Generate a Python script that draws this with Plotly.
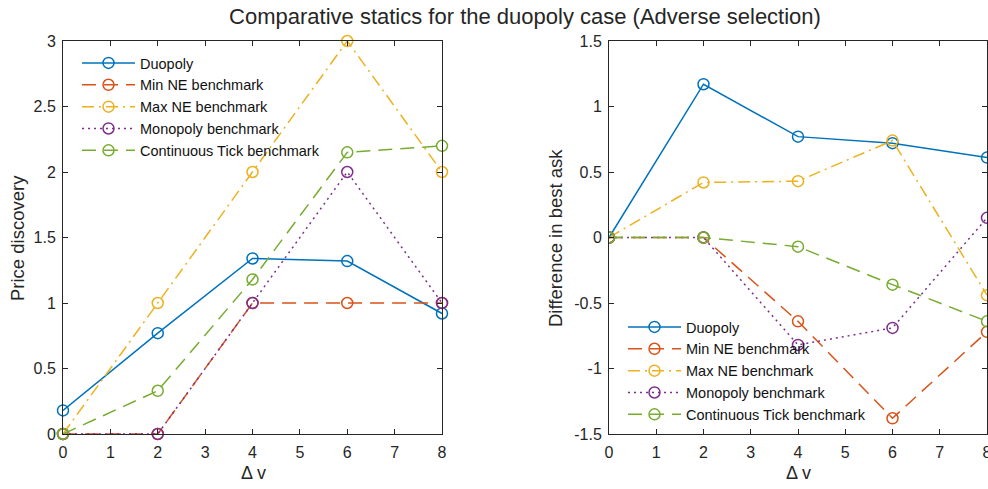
import plotly.graph_objects as go

dv = [0, 2, 4, 6, 8]
names = ["Duopoly", "Min NE benchmark", "Max NE benchmark", "Monopoly benchmark", "Continuous Tick benchmark"]

# Left panel: Price discovery
pd_duopoly = [0.18, 0.77, 1.34, 1.32, 0.92]
pd_min_ne = [0, 0, 1, 1, 1]
pd_max_ne = [0, 1, 2, 3, 2]
pd_monopoly = [0, 0, 1, 2, 1]
pd_cont_tick = [0, 0.33, 1.18, 2.15, 2.2]

# Right panel: Difference in best ask
da_duopoly = [0, 1.17, 0.77, 0.72, 0.61]
da_min_ne = [0, 0, -0.64, -1.38, -0.72]
da_max_ne = [0, 0.42, 0.43, 0.74, -0.44]
da_monopoly = [0, 0, -0.82, -0.69, 0.15]
da_cont_tick = [0, 0, -0.07, -0.36, -0.64]

x_ticks = list(range(0, 9))
left_yticks = [0, 0.5, 1, 1.5, 2, 2.5, 3]
right_yticks = [-1.5, -1, -0.5, 0, 0.5, 1, 1.5]

colors = ["#0072BD", "#D95319", "#EDB120", "#7E2F8E", "#77AC30"]
dashes = ["solid", "14px,8px", "12px,5px,2px,5px", "2px,4px", "14px,8px"]

FONT = "Liberation Sans, Arial, Helvetica, sans-serif"
TXT = "#262626"
fig = go.Figure()

left = [pd_duopoly, pd_min_ne, pd_max_ne, pd_monopoly, pd_cont_tick]
right = [da_duopoly, da_min_ne, da_max_ne, da_monopoly, da_cont_tick]
for i in range(5):
    fig.add_trace(go.Scatter(
        x=dv, y=left[i], name=names[i], mode="lines+markers",
        line=dict(color=colors[i], width=1.5, dash=dashes[i]),
        marker=dict(symbol="circle-open", size=11, color=colors[i], line=dict(width=1.5)),
        xaxis="x", yaxis="y", legend="legend", cliponaxis=False))
for i in range(5):
    fig.add_trace(go.Scatter(
        x=dv, y=right[i], name=names[i], mode="lines+markers",
        line=dict(color=colors[i], width=1.5, dash=dashes[i]),
        marker=dict(symbol="circle-open", size=11, color=colors[i], line=dict(width=1.5)),
        xaxis="x2", yaxis="y2", legend="legend2", cliponaxis=True))

W, H = 988, 489
ax_common = dict(showline=True, linecolor=TXT, linewidth=1, mirror="ticks",
                 ticks="inside", ticklen=5, tickcolor=TXT, tickwidth=1,
                 showgrid=False, zeroline=False, automargin=False,
                 tickfont=dict(family=FONT, size=16, color=TXT))
ydom = [1 - 434 / H, 1 - 41 / H]

fig.update_layout(
    width=W, height=H,
    margin=dict(l=0, r=0, t=0, b=0, autoexpand=False),
    paper_bgcolor="white", plot_bgcolor="white",
    font=dict(family=FONT, color=TXT),
    title=dict(text="Comparative statics for the duopoly case (Adverse selection)",
               x=525 / W, xanchor="center", y=1 - 16 / H, yanchor="middle",
               font=dict(family=FONT, size=22, color=TXT)),
    xaxis=dict(domain=[63 / W, 442 / W], range=[0, 8], tickvals=x_ticks, anchor="y",
               ticklabelstandoff=4, **ax_common),
    yaxis=dict(domain=ydom, range=[0, 3], tickvals=left_yticks,
               ticktext=[f"{v:g}" for v in left_yticks], anchor="x", ticklabelstandoff=3, **ax_common),
    xaxis2=dict(domain=[609 / W, 987 / W], range=[0, 8], tickvals=x_ticks, anchor="y2",
                ticklabelstandoff=4, ticklabeloverflow="allow", **ax_common),
    yaxis2=dict(domain=ydom, range=[-1.5, 1.5], tickvals=right_yticks,
                ticktext=[f"{v:g}" for v in right_yticks], anchor="x2", ticklabelstandoff=3, **ax_common),
    legend=dict(x=77 / W, y=1 - 47 / H, xanchor="left", yanchor="top",
                bgcolor="rgba(0,0,0,0)", borderwidth=0, itemwidth=53,
                font=dict(family=FONT, size=14.5, color="#111111"), tracegroupgap=0),
    legend2=dict(x=623 / W, y=1 - 311 / H, xanchor="left", yanchor="top",
                 bgcolor="rgba(0,0,0,0)", borderwidth=0, itemwidth=53,
                 font=dict(family=FONT, size=14.5, color="#111111"), tracegroupgap=0),
    annotations=[
        dict(text="Δ v", x=253 / W, y=1 - 473 / H, xref="paper", yref="paper",
             showarrow=False, font=dict(family=FONT, size=18, color=TXT), xanchor="center", yanchor="middle"),
        dict(text="Δ v", x=798 / W, y=1 - 473 / H, xref="paper", yref="paper",
             showarrow=False, font=dict(family=FONT, size=18, color=TXT), xanchor="center", yanchor="middle"),
        dict(text="Price discovery", x=18 / W, y=1 - 238 / H, xref="paper", yref="paper", textangle=-90,
             showarrow=False, font=dict(family=FONT, size=18.5, color=TXT), xanchor="center", yanchor="middle"),
        dict(text="Difference in best ask", x=556 / W, y=1 - 238 / H, xref="paper", yref="paper", textangle=-90,
             showarrow=False, font=dict(family=FONT, size=18.5, color=TXT), xanchor="center", yanchor="middle"),
    ],
)

fig.write_html("out.html", config={"displayModeBar": False},
               post_script="document.body.style.margin='0';document.body.style.padding='0';")
